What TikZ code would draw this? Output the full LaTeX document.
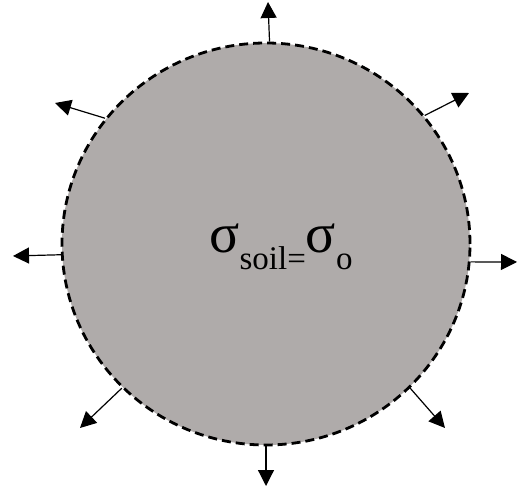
\documentclass[tikz,border=0pt]{standalone}
\usepackage{fontspec}
\setmainfont{Liberation Serif}
\usetikzlibrary{arrows.meta,shapes.geometric}
\definecolor{soilgray}{RGB}{175,171,170}

\begin{document}
\begin{tikzpicture}[
  x=0.5pt, y=-0.5pt,
  >={Triangle[length=8pt,width=8pt]},
  soilzone/.style={ellipse, draw, dash pattern=on 4.5pt off 2.5pt, line width=1.4pt,
    fill=soilgray, minimum width=204pt, minimum height=201pt, inner sep=0pt},
  push/.style={->, line width=0.6pt},
]
  \useasboundingbox (0,0) rectangle (518,490);

  % Soil zone under uniform stress
  \node[soilzone] (soil) at (266,244) {};
  \node[anchor=base west, inner sep=0pt] (stress) at (209,253)
    {\fontsize{28}{32}\selectfont σ\raisebox{-8.5pt}{\fontsize{16.5}{19}\selectfont soil=}σ\raisebox{-8.5pt}{\fontsize{16.5}{19}\selectfont o}};

  % Arrow tips
  \coordinate (tipN) at (268,2);
  \coordinate (tipNW) at (55,103);
  \coordinate (tipNE) at (469,93);
  \coordinate (tipW) at (13,256);
  \coordinate (tipE) at (517,262);
  \coordinate (tipSW) at (80,428);
  \coordinate (tipSE) at (445,428);
  \coordinate (tipS) at (266,486);

  % Outward pressure
  \draw[push] (soil.89) -- (tipN);
  \draw[push] (soil.142) -- (tipNW);
  \draw[push] (soil.39) -- (tipNE);
  \draw[push] (soil.183) -- (tipW);
  \draw[push] (soil.355) -- (tipE);
  \draw[push] (soil.225) -- (tipSW);
  \draw[push] (soil.315) -- (tipSE);
  \draw[push] (soil.270) -- (tipS);
\end{tikzpicture}
\end{document}
